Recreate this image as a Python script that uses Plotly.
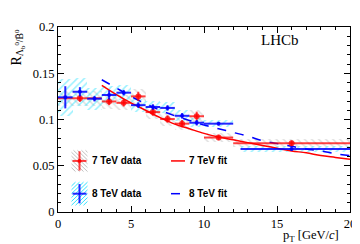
import plotly.graph_objects as go

# ---------------- data ----------------
x7 = [1.5, 3.5, 4.5, 5.5, 6.5, 7.5, 8.5, 9.5, 11, 16]
lo7 = [0, 3, 4, 5, 6, 7, 8, 9, 10, 12]
hi7 = [3, 4, 5, 6, 7, 8, 9, 10, 12, 20]
y7 = [0.123, 0.1195, 0.118, 0.125, 0.108, 0.1005, 0.0955, 0.1035, 0.0805, 0.0743]
stat7 = [0.004, 0.004, 0.004, 0.005, 0.004, 0.004, 0.004, 0.005, 0.003, 0.003]
sys7 = [0.008, 0.008, 0.008, 0.008, 0.007, 0.007, 0.007, 0.007, 0.005, 0.0045]

x8 = [0.5, 1.5, 2.5, 3.5, 4.5, 5.5, 6.5, 7.5, 8.5, 9.5, 11, 16]
lo8 = [0, 1, 2, 3, 4, 5, 6, 7, 8, 9, 10, 12.5]
hi8 = [1, 2, 3, 4, 5, 6, 7, 8, 9, 10, 12, 20]
y8 = [0.124, 0.130, 0.1225, 0.1265, 0.129, 0.1155, 0.1135, 0.1125, 0.104, 0.0965, 0.0955, 0.068]
stat8 = [0.012, 0.005, 0.003, 0.005, 0.003, 0.003, 0.003, 0.003, 0.003, 0.003, 0.002, 0.002]
sys8 = [0.02, 0.015, 0.012, 0.010, 0.008, 0.007, 0.006, 0.006, 0.006, 0.005, 0.004, 0.0035]

fit_x = [3, 4, 5, 6, 7, 8, 9, 10, 11, 12, 13, 14, 15, 16, 17, 18, 19, 20]
fit7 = [0.137, 0.127, 0.118, 0.110, 0.102, 0.095, 0.090, 0.085, 0.081, 0.078,
        0.075, 0.072, 0.069, 0.066, 0.064, 0.061, 0.059, 0.057]
fit8 = [0.143, 0.134, 0.125, 0.117, 0.110, 0.104, 0.099, 0.094, 0.090, 0.086,
        0.082, 0.077, 0.074, 0.071, 0.068, 0.066, 0.063, 0.061]

RED = "rgba(255,0,0,0.75)"
BLUE = "rgba(0,0,255,0.85)"
GREY_H = "rgba(150,150,150,0.6)"
CYAN_H = "rgba(0,220,255,0.8)"

fig = go.Figure()

def sysbars(xc, lo, hi, y, s, col, shape):
    fig.add_trace(go.Bar(
        x=xc, y=[2 * v for v in s], base=[a - b for a, b in zip(y, s)],
        width=[h - l for l, h in zip(lo, hi)],
        offset=[l - c for l, c in zip(lo, xc)],
        marker=dict(color="rgba(0,0,0,0)", line=dict(width=0),
                    pattern=dict(shape=shape, fgcolor=col, bgcolor="rgba(0,0,0,0)",
                                 size=5, solidity=0.3)),
        showlegend=False, hoverinfo="skip"))

sysbars(x7, lo7, hi7, y7, sys7, GREY_H, "\\")
sysbars(x8, lo8, hi8, y8, sys8, CYAN_H, "/")

fig.add_trace(go.Scatter(x=fit_x, y=fit7, mode="lines", line=dict(color="red", width=1.5, shape="spline"),
                         showlegend=False))
fig.add_trace(go.Scatter(x=fit_x, y=fit8, mode="lines", line=dict(color="blue", width=1.5, dash="dash", shape="spline"),
                         showlegend=False))

def data(xc, lo, hi, y, st, col, msize):
    fig.add_trace(go.Scatter(
        x=xc, y=y, mode="markers",
        marker=dict(color=col, size=msize, line=dict(width=0)),
        error_x=dict(type="data", symmetric=False,
                     array=[h - c for h, c in zip(hi, xc)],
                     arrayminus=[c - l for c, l in zip(xc, lo)],
                     color=col, thickness=2, width=0),
        error_y=dict(type="data", array=st, color=col, thickness=2, width=0),
        showlegend=False))

data(x7, lo7, hi7, y7, stat7, RED, 6)
data(x8, lo8, hi8, y8, stat8, BLUE, 4)

# ---------------- manual legend (paper coordinates) ----------------
L, R, T, B = 50, 18, 12, 40
W, H = 360, 244
pw, ph = W - L - R, H - T - B

def px(xp):
    return (xp - L) / pw

def py(yp):
    return (H - B - yp) / ph

shapes = []

def hatch_box(cx, cy, hw, hh, col, forward):
    step = 4
    k = -2 * hh
    while k < 2 * hw:
        pts = []
        for t in range(0, int(2 * hh) + 1):
            xx = cx - hw + k + t
            if cx - hw <= xx <= cx + hw:
                yy = (cy + hh - t) if forward else (cy - hh + t)
                pts.append((xx, yy))
        if len(pts) >= 2:
            (xa, ya), (xb, yb) = pts[0], pts[-1]
            shapes.append(dict(type="line", xref="paper", yref="paper",
                               x0=px(xa), y0=py(ya), x1=px(xb), y1=py(yb),
                               line=dict(color=col, width=1)))
        k += step

def cross(cx, cy, hw, hh, col):
    shapes.append(dict(type="line", xref="paper", yref="paper", x0=px(cx - hw), x1=px(cx + hw),
                       y0=py(cy), y1=py(cy), line=dict(color=col, width=2)))
    shapes.append(dict(type="line", xref="paper", yref="paper", x0=px(cx), x1=px(cx),
                       y0=py(cy - hh), y1=py(cy + hh), line=dict(color=col, width=2)))

hatch_box(71.5, 151, 8, 11, GREY_H, False)
cross(71.5, 151, 7, 10, RED)
shapes.append(dict(type="circle", xref="paper", yref="paper", x0=px(69.5), x1=px(73.5),
                   y0=py(153), y1=py(149), fillcolor="red", line=dict(width=0)))
hatch_box(71.5, 185, 8, 12, CYAN_H, True)
cross(71.5, 185, 7, 10, BLUE)
shapes.append(dict(type="line", xref="paper", yref="paper", x0=px(163), x1=px(177),
                   y0=py(151), y1=py(151), line=dict(color="red", width=1.5)))
shapes.append(dict(type="line", xref="paper", yref="paper", x0=px(163), x1=px(177),
                   y0=py(185), y1=py(185), line=dict(color="blue", width=1.5, dash="dash")))

LEG = dict(family="Liberation Sans", size=10, color="black")
ann = []
for txt, xp, yp in [("7 TeV data", 82, 151), ("8 TeV data", 82, 185),
                    ("7 TeV fit", 179, 151), ("8 TeV fit", 179, 185)]:
    ann.append(dict(text="<b>" + txt + "</b>", xref="paper", yref="paper", x=px(xp), y=py(yp),
                    xanchor="left", yanchor="middle", showarrow=False, font=LEG))

SERIF = dict(family="Liberation Serif", size=12.5, color="black")
ann.append(dict(text="LHCb", xref="paper", yref="paper", x=px(272), y=py(25),
                xanchor="center", yanchor="middle", showarrow=False,
                font=dict(family="Liberation Serif", size=15, color="black")))
ann.append(dict(text="p<sub>T</sub> [GeV/<i>c</i>]", xref="paper", yref="paper", x=px(332), y=py(229),
                xanchor="right", yanchor="middle", showarrow=False, borderpad=0,
                font=dict(family="Liberation Serif", size=12.5, color="black")))
ann.append(dict(text="R<sub>Λ<sub>b</sub><sup>0</sup>/B̄<sup>0</sup></sub>", xref="paper", yref="paper",
                x=px(9), y=1.0, xanchor="center", yanchor="top", textangle=-90, showarrow=False,
                font=dict(family="Liberation Serif", size=14, color="black")))

axis_common = dict(showgrid=False, zeroline=False, showline=True, linecolor="black", linewidth=1,
                   mirror="ticks", ticks="inside", ticklen=6, tickcolor="black", tickwidth=1,
                   tickfont=SERIF)

fig.update_layout(
    width=W, height=H, margin=dict(l=L, r=R, t=T, b=B),
    plot_bgcolor="white", paper_bgcolor="white",
    barmode="overlay", bargap=0, showlegend=False,
    xaxis=dict(range=[0, 20], tickvals=[0, 5, 10, 15, 20],
               minor=dict(dtick=1, ticks="inside", ticklen=3, tickcolor="black"), **axis_common),
    yaxis=dict(range=[0, 0.2], tickvals=[0, 0.05, 0.1, 0.15, 0.2], ticktext=["0", "0.05", "0.1", "0.15", "0.2"],
               minor=dict(dtick=0.01, ticks="inside", ticklen=3, tickcolor="black"), **axis_common),
    shapes=shapes, annotations=ann,
)

fig.write_html("out.html")
